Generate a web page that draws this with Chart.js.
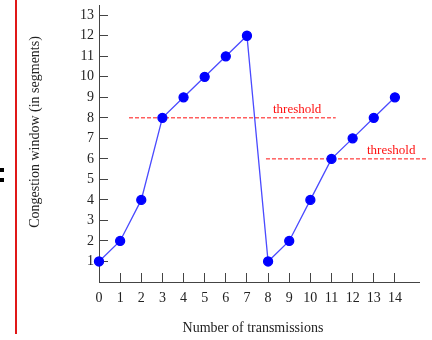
<!DOCTYPE html>
<html lang="en">
<head>
    <meta charset="UTF-8">
    <title>Congestion window</title>
    <script src="https://cdn.jsdelivr.net/npm/chart.js@4.4.0/dist/chart.umd.min.js"></script>
    <style>
        body { margin: 0; background: #fff; }
        #box { width: 432px; height: 340px; position: relative; }
    </style>
</head>
<body>
<div id="box">
    <canvas id="myChart"></canvas>
</div>

<script>
    // data
    const transmissions = [0, 1, 2, 3, 4, 5, 6, 7, 8, 9, 10, 11, 12, 13, 14];
    const cwnd = [1, 2, 4, 8, 9, 10, 11, 12, 1, 2, 4, 6, 7, 8, 9];
    const xTicks = [0, 1, 2, 3, 4, 5, 6, 7, 8, 9, 10, 11, 12, 13, 14];
    const yTicks = [1, 2, 3, 4, 5, 6, 7, 8, 9, 10, 11, 12, 13];

    // threshold lines: value, start x, end x, label x
    const thresholdValues = [8, 6];
    const thresholdStart = [1.42, 7.9];
    const thresholdEnd = [11.2, 15.5];
    const thresholdLabelX = [8.23, 12.68];

    const xTitle = 'Number of transmissions';
    const yTitle = 'Congestion window (in segments)';

    const serif = '"Liberation Serif", "Times New Roman", serif';
    const axisColor = '#444';

    let points = transmissions.map((x, i) => ({x: x, y: cwnd[i]}));

    let datasets = [{
        data: points,
        borderColor: '#4a4aff',
        borderWidth: 1.3,
        backgroundColor: '#0000ff',
        pointBackgroundColor: '#0000ff',
        pointBorderColor: '#0000ff',
        pointRadius: 4.5,
        tension: 0,
        clip: false
    }];

    thresholdValues.forEach((v, i) => {
        datasets.push({
            data: [{x: thresholdStart[i], y: v}, {x: thresholdEnd[i], y: v}],
            borderColor: '#ff1010',
            borderWidth: 1,
            borderDash: [4, 2],
            pointRadius: 0,
            clip: false
        });
    });

    // axis titles, threshold labels and the stray marks on the left edge
    const extras = {
        id: 'extras',
        afterDraw(chart) {
            const ctx = chart.ctx;
            const xs = chart.scales.x, ys = chart.scales.y;
            ctx.save();
            ctx.fillStyle = '#ff1010';
            ctx.font = '13px ' + serif;
            ctx.textBaseline = 'alphabetic';
            thresholdValues.forEach((v, i) => {
                ctx.fillText('threshold', xs.getPixelForValue(thresholdLabelX[i]), ys.getPixelForValue(v) - 5);
            });

            ctx.fillStyle = '#222';
            ctx.font = '14px ' + serif;
            ctx.textAlign = 'center';
            ctx.textBaseline = 'middle';
            ctx.fillText(xTitle, 253, 328);
            ctx.translate(35, 132);
            ctx.rotate(-Math.PI / 2);
            ctx.fillText(yTitle, 0, 0);
            ctx.restore();

            ctx.save();
            ctx.fillStyle = '#e01818';
            ctx.fillRect(15, 0, 2, 334);
            ctx.fillStyle = '#000';
            ctx.fillRect(0, 168, 4, 4);
            ctx.fillRect(0, 178, 4, 4);
            ctx.restore();
        }
    };

    let myChart = document.getElementById('myChart').getContext('2d');
    let MainChart = new Chart(myChart, {
        type: 'line',
        data: { datasets: datasets },
        options: {
            responsive: true,
            maintainAspectRatio: false,
            animation: false,
            layout: { padding: { left: 0, top: 3, right: 13, bottom: 0 } },
            plugins: { legend: { display: false }, tooltip: { enabled: false } },
            scales: {
                x: {
                    type: 'linear',
                    min: 0,
                    max: 15.14,
                    afterBuildTicks: (s) => { s.ticks = xTicks.map(v => ({value: v})); },
                    afterFit: (s) => { s.height = 58; s.paddingLeft = 0; s.paddingRight = 0; },
                    border: { color: axisColor, width: 1 },
                    grid: { drawOnChartArea: false, drawTicks: true, tickLength: -9, color: axisColor },
                    ticks: { color: '#222', padding: 17, maxRotation: 0, font: { family: serif, size: 14 } }
                },
                y: {
                    min: 0,
                    max: 13.46,
                    afterBuildTicks: (s) => { s.ticks = yTicks.map(v => ({value: v})); },
                    afterFit: (s) => { s.width = 99; s.paddingTop = 0; s.paddingBottom = 0; },
                    border: { color: axisColor, width: 1 },
                    grid: { drawOnChartArea: false, drawTicks: true, tickLength: -9, color: axisColor },
                    ticks: { color: '#222', padding: 14, font: { family: serif, size: 14 } }
                }
            }
        },
        plugins: [extras]
    });
</script>
</body>
</html>
